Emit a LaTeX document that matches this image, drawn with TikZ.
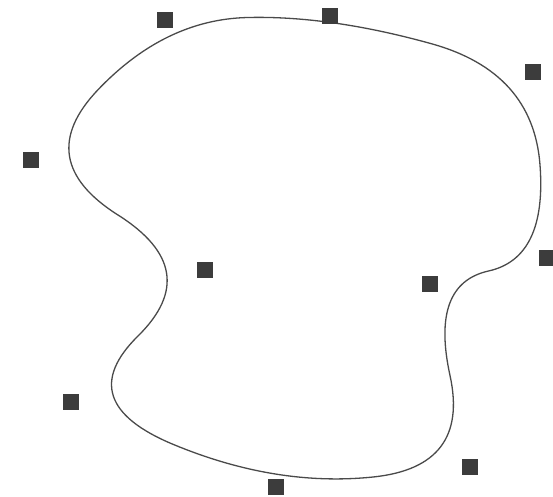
\documentclass[tikz,border=0pt]{standalone}
\usetikzlibrary{calc,backgrounds}
\definecolor{ptcol}{HTML}{3C3C3C}
\definecolor{curvecol}{HTML}{4A4A4A}
\tikzset{
  ctrlpt/.style={fill=ptcol,draw=none,minimum size=16pt,inner sep=0pt,outer sep=0pt,rectangle},
  splinecurve/.style={draw=curvecol,line width=1.3pt,line join=round}
}
\begin{document}
\begin{tikzpicture}[x=1pt,y=-1pt]
\useasboundingbox (0,0) rectangle (553,496);
\node[ctrlpt] (p0) at (165,19.5) {};
\node[ctrlpt] (p1) at (330,15.5) {};
\node[ctrlpt] (p2) at (533,72) {};
\node[ctrlpt] (p3) at (547,258) {};
\node[ctrlpt] (p4) at (430,284) {};
\node[ctrlpt] (p5) at (470,467) {};
\node[ctrlpt] (p6) at (276,487) {};
\node[ctrlpt] (p7) at (71,402) {};
\node[ctrlpt] (p8) at (205,270) {};
\node[ctrlpt] (p9) at (31,160) {};
\coordinate (m0) at ($(p0.center)!0.5!(p1.center)$);
\coordinate (m1) at ($(p1.center)!0.5!(p2.center)$);
\coordinate (m2) at ($(p2.center)!0.5!(p3.center)$);
\coordinate (m3) at ($(p3.center)!0.5!(p4.center)$);
\coordinate (m4) at ($(p4.center)!0.5!(p5.center)$);
\coordinate (m5) at ($(p5.center)!0.5!(p6.center)$);
\coordinate (m6) at ($(p6.center)!0.5!(p7.center)$);
\coordinate (m7) at ($(p7.center)!0.5!(p8.center)$);
\coordinate (m8) at ($(p8.center)!0.5!(p9.center)$);
\coordinate (m9) at ($(p9.center)!0.5!(p0.center)$);
\begin{scope}[on background layer]
\draw[splinecurve] (m9)
  .. controls ($(m9)!2/3!(p0.center)$) and ($(m0)!2/3!(p0.center)$) .. (m0)
  .. controls ($(m0)!2/3!(p1.center)$) and ($(m1)!2/3!(p1.center)$) .. (m1)
  .. controls ($(m1)!2/3!(p2.center)$) and ($(m2)!2/3!(p2.center)$) .. (m2)
  .. controls ($(m2)!2/3!(p3.center)$) and ($(m3)!2/3!(p3.center)$) .. (m3)
  .. controls ($(m3)!2/3!(p4.center)$) and ($(m4)!2/3!(p4.center)$) .. (m4)
  .. controls ($(m4)!2/3!(p5.center)$) and ($(m5)!2/3!(p5.center)$) .. (m5)
  .. controls ($(m5)!2/3!(p6.center)$) and ($(m6)!2/3!(p6.center)$) .. (m6)
  .. controls ($(m6)!2/3!(p7.center)$) and ($(m7)!2/3!(p7.center)$) .. (m7)
  .. controls ($(m7)!2/3!(p8.center)$) and ($(m8)!2/3!(p8.center)$) .. (m8)
  .. controls ($(m8)!2/3!(p9.center)$) and ($(m9)!2/3!(p9.center)$) .. (m9)
  -- cycle;
\end{scope}
\end{tikzpicture}
\end{document}
